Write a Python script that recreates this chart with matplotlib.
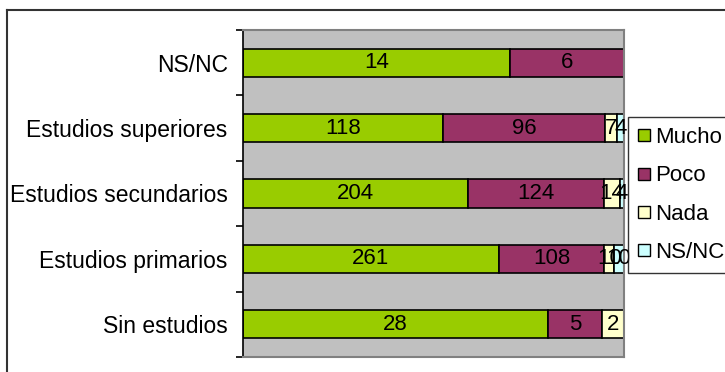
import matplotlib
matplotlib.use('Agg')
import matplotlib.pyplot as plt
import numpy as np
from matplotlib.lines import Line2D

plt.rcParams['font.family'] = ['Liberation Sans', 'DejaVu Sans']

# Data (bottom to top)
categories = ['Sin estudios', 'Estudios primarios', 'Estudios secundarios',
              'Estudios superiores', 'NS/NC']
series_names = ['Mucho', 'Poco', 'Nada', 'NS/NC']
mucho = [28, 261, 204, 118, 14]
poco = [5, 108, 124, 96, 6]
nada = [2, 10, 14, 7, 0]
nsnc = [0, 10, 4, 4, 0]
colors = ['#99CC00', '#993366', '#FFFFCC', '#CCFFFF']

values = np.array([mucho, poco, nada, nsnc], dtype=float)
totals = values.sum(axis=0)
pct = values / totals * 100

fig = plt.figure(figsize=(7.25, 3.72), dpi=100)
ax = fig.add_axes([243 / 725, 15 / 372, (624 - 243) / 725, (357 - 30) / 372])
ax.set_facecolor('#C0C0C0')

y = np.arange(len(categories))
left = np.zeros(len(categories))
for i, name in enumerate(series_names):
    bars = ax.barh(y, pct[i], left=left, height=0.43, color=colors[i],
                   edgecolor='black', linewidth=1.2, label=name)
    for j, b in enumerate(bars):
        if values[i, j] > 0:
            ax.text(left[j] + pct[i, j] / 2, y[j], '%d' % values[i, j],
                    ha='center', va='center', fontsize=16, color='black')
    left += pct[i]

ax.set_xlim(0, 100)
ax.set_ylim(-0.5, len(categories) - 0.5)
ax.set_xticks([])
ax.set_yticks(y)
ax.set_yticklabels(categories, fontsize=16.5)
ax.tick_params(axis='y', which='major', length=0, pad=11)
ax.set_yticks(np.arange(-0.5, len(categories)), minor=True)
ax.tick_params(axis='y', which='minor', length=5, width=1.2, color='black')

for s in ['top', 'right', 'bottom']:
    ax.spines[s].set_color('#808080')
    ax.spines[s].set_linewidth(1.5)
ax.spines['left'].set_color('black')
ax.spines['left'].set_linewidth(1.2)

# Legend
handles = [Line2D([], [], marker='s', linestyle='none', markersize=9,
                  markerfacecolor=c, markeredgecolor='black', markeredgewidth=1)
           for c in colors]
leg = fig.legend(handles, series_names, loc='upper left',
                 bbox_to_anchor=(628 / 725, 1 - 117 / 372), fontsize=16,
                 frameon=True, fancybox=False, handlelength=0.5,
                 handletextpad=0.25, labelspacing=0.78, borderpad=0.45,
                 borderaxespad=0)
leg.get_frame().set_edgecolor('black')
leg.get_frame().set_linewidth(1)

# Outer chart frame
fig.add_artist(Line2D([7 / 725, 1], [1 - 10 / 372, 1 - 10 / 372],
                      transform=fig.transFigure, color='#333333', linewidth=1.5))
fig.add_artist(Line2D([7 / 725, 7 / 725], [0, 1 - 10 / 372],
                      transform=fig.transFigure, color='#333333', linewidth=1.5))

fig.savefig('out.png', dpi=100)
